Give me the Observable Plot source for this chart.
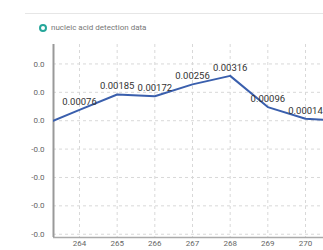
<!DOCTYPE html>
<html><head><meta charset="utf-8">
<script src="https://cdn.jsdelivr.net/npm/d3@7"></script>
<script src="https://cdn.jsdelivr.net/npm/@observablehq/plot@0.6"></script>
<style>
body{margin:0;background:#fff;font-family:Roboto,sans-serif;}
#wrap{position:relative;width:323px;height:250px;overflow:hidden;}
#topline{position:absolute;left:25px;top:13px;width:298px;height:0;border-top:1.5px solid #e6e6e6;}
#legend{position:absolute;left:39px;top:23px;display:flex;align-items:center;font-size:8px;color:#777;}
#legend .dot{width:4px;height:4px;border:2.5px solid #26a69a;border-radius:50%;background:#fff;margin-right:4px;}
</style></head>
<body><div id="wrap"><div id="topline"></div><div id="legend"><span class="dot"></span><span>nucleic acid detection data</span></div></div>
<script>
const seriesName = "nucleic acid detection data";
const xValues = [263.3, 264, 265, 266, 267, 268, 269, 270, 271];
const yValues = [0, 0.00076, 0.00185, 0.00172, 0.00256, 0.00316, 0.00096, 0.00014, 0];
const labelX = [264, 265, 266, 267, 268, 269, 270];
const labelY = [0.00076, 0.00185, 0.00172, 0.00256, 0.00316, 0.00096, 0.00014];
const xTicks = [264, 265, 266, 267, 268, 269, 270];
const yTicks = [-0.008, -0.006, -0.004, -0.002, 0, 0.002, 0.004];

const lineData = xValues.map((x, i) => ({x, y: yValues[i]}));
const labelData = labelX.map((x, i) => ({x, y: labelY[i]}));
const fmtY = d => (d < 0 ? "-" : "") + Math.abs(d).toFixed(1);

const chart = Plot.plot({
  width: 323, height: 250,
  marginLeft: 53, marginRight: 0, marginTop: 44, marginBottom: 13,
  style: {fontFamily: "Roboto, sans-serif", background: "transparent"},
  x: {domain: [263.31, 270.478], label: null},
  y: {domain: [-0.00823, 0.00537], label: null},
  marks: [
    Plot.gridX(xTicks, {stroke: "#d8d8d8", strokeOpacity: 1, strokeDasharray: "3,3"}),
    Plot.gridY(yTicks, {stroke: "#d8d8d8", strokeOpacity: 1, strokeDasharray: "3,3"}),
    Plot.axisX(xTicks, {tickSize: 0, tickPadding: 3, fontSize: 8, fill: "#666", label: null, tickFormat: d => String(d)}),
    Plot.axisY(yTicks, {tickSize: 0, tickPadding: 9, fontSize: 8, fill: "#666", label: null, tickFormat: fmtY}),
    Plot.ruleY([-0.00823], {stroke: "#aaa", strokeWidth: 1.5}),
    Plot.ruleX([263.31], {stroke: "#999", strokeWidth: 2}),
    Plot.line(lineData, {x: "x", y: "y", stroke: "#3a5fad", strokeWidth: 2, clip: true}),
    Plot.text(labelData, {x: "x", y: "y", text: d => d.y.toFixed(5), dy: -8, fontSize: 9.5, fill: "#333"})
  ]
});
chart.style.position = "absolute";
chart.style.left = "0";
chart.style.top = "0";
document.getElementById("wrap").appendChild(chart);
</script></body></html>
